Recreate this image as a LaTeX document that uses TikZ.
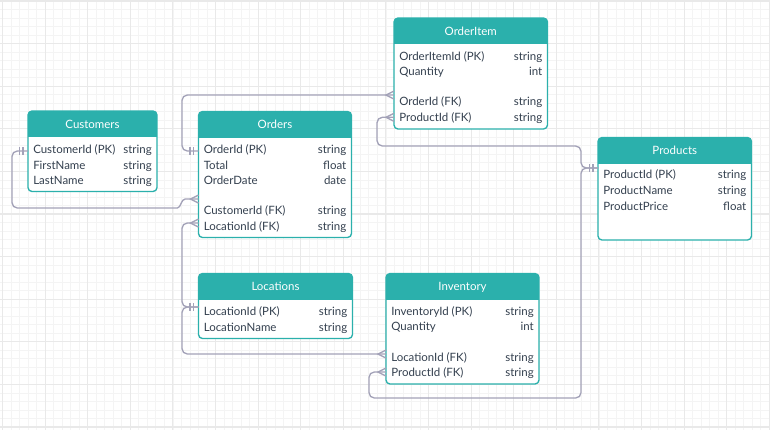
\documentclass[tikz,border=0pt]{standalone}
\usepackage{fontspec}
\setmainfont{Lato}
\usetikzlibrary{calc}
\definecolor{erteal}{HTML}{2BB0AC}
\definecolor{ertext}{HTML}{34404F}
\definecolor{erline}{HTML}{A3A2B8}
\definecolor{gridminor}{HTML}{F4F4F4}
\definecolor{gridmajor}{HTML}{E9E9E9}
\tikzset{
  tbl/.style={draw=erteal, fill=white, line width=1pt, rounded corners=3pt, inner sep=0pt, outer sep=0pt},
  hdrtext/.style={text=white, font=\fontsize{8.6}{10}\selectfont, inner sep=0pt},
  rowtxt/.style={text=ertext, font=\fontsize{8.6}{10}\selectfont, inner sep=0pt},
  conn/.style={draw=erline, line width=1pt, rounded corners=4pt},
  erl/.style={draw=erline, line width=1pt},
}
\newcommand{\ertable}[6]{% name, x, y, w, h, title
  \xdef\erL{#2}\pgfmathsetmacro\erRtmp{#2+#4}\xdef\erR{\erRtmp}%
  \node[tbl, minimum width=#4*0.75pt, minimum height=#5*0.75pt, anchor=north west] (#1) at (#2,#3) {};
  \begin{scope}
    \clip[rounded corners=3pt] (#1.north west) rectangle (#1.south east);
    \fill[erteal] (#1.north west) rectangle ($(#1.north east)+(0,26)$);
  \end{scope}
  \node[hdrtext, anchor=mid] (#1-title) at ($(#1.north)+(0,14)$) {#6};
}
\newcommand{\errow}[4]{% name, y, left, right
  \node[rowtxt, anchor=mid west] (#1l) at ({\erL+5},{#2+1}) {#3};
  \node[rowtxt, anchor=mid east] (#1r) at ({\erR-5},{#2+1}) {#4};
}
\newcommand{\onebar}[1]{\draw[erl] ($(#1)+(-8.5,-4)$) -- ($(#1)+(-8.5,4)$) ($(#1)+(-5,-4)$) -- ($(#1)+(-5,4)$);}
\newcommand{\crowft}[1]{\draw[erl] ($(#1)+(0,-4)$) -- ($(#1)+(-8,0)$) -- ($(#1)+(0,4)$);}
\begin{document}
\begin{tikzpicture}[x=0.75pt, y=-0.75pt]
\useasboundingbox (0,0) rectangle (770,430);
\fill[white] (0,0) rectangle (770,430);
\begin{scope}
  \clip (0,0) rectangle (770,430);
  \foreach \i in {0,...,92} {
    \draw[gridminor, line width=0.6pt] ({2.5+8.52*(\i-1)},0) -- ({2.5+8.52*(\i-1)},430);
  }
  \foreach \i in {0,...,52} {
    \draw[gridminor, line width=0.6pt] (0,{1+8.52*(\i-1)}) -- (770,{1+8.52*(\i-1)});
  }
  \foreach \i in {0,...,18} {
    \draw[gridmajor, line width=0.8pt] ({2.5+42.6*\i},0) -- ({2.5+42.6*\i},430);
  }
  \foreach \i in {0,...,10} {
    \draw[gridmajor, line width=0.8pt] (0,{1+42.6*\i}) -- (770,{1+42.6*\i});
  }
\end{scope}

% Tables
\ertable{cust}{28}{111}{129}{80.5}{Customers}
\errow{cust1}{149.3}{CustomerId (PK)}{string}
\errow{cust2}{164.7}{FirstName}{string}
\errow{cust3}{180}{LastName}{string}

\ertable{ord}{198.5}{111.5}{153}{126}{Orders}
\errow{ord1}{149.3}{OrderId (PK)}{string}
\errow{ord2}{164.7}{Total}{float}
\errow{ord3}{180}{OrderDate}{date}
\errow{ord4}{210.5}{CustomerId (FK)}{string}
\errow{ord5}{226}{LocationId (FK)}{string}

\ertable{oi}{394}{18}{153.5}{111}{OrderItem}
\errow{oi1}{55.7}{OrderItemId (PK)}{string}
\errow{oi2}{71}{Quantity}{int}
\errow{oi3}{101.3}{OrderId (FK)}{string}
\errow{oi4}{117.5}{ProductId (FK)}{string}

\ertable{prod}{598}{137.5}{153.5}{102.5}{Products}
\errow{prod1}{174.3}{ProductId (PK)}{string}
\errow{prod2}{190}{ProductName}{string}
\errow{prod3}{205.7}{ProductPrice}{float}

\ertable{loc}{198.5}{273.5}{154}{65}{Locations}
\errow{loc1}{311}{LocationId (PK)}{string}
\errow{loc2}{326.7}{LocationName}{string}

\ertable{inv}{386}{273.5}{153}{110.5}{Inventory}
\errow{inv1}{310.7}{InventoryId (PK)}{string}
\errow{inv2}{326}{Quantity}{int}
\errow{inv3}{356.7}{LocationId (FK)}{string}
\errow{inv4}{372.3}{ProductId (FK)}{string}

% Attach points
\coordinate (cust-pk) at ($(cust.north west)+(0,40)$);
\coordinate (ord-pk) at ($(ord.north west)+(0,39.5)$);
\coordinate (ord-cfk) at ($(ord.north west)+(0,87.5)$);
\coordinate (ord-lfk) at ($(ord.north west)+(0,111.5)$);
\coordinate (oi-ofk) at ($(oi.north west)+(0,77)$);
\coordinate (oi-pfk) at ($(oi.north west)+(0,99.3)$);
\coordinate (prod-pk) at ($(prod.north west)+(0,30.5)$);
\coordinate (loc-pk) at ($(loc.north west)+(0,33.5)$);
\coordinate (inv-lfk) at ($(inv.north west)+(0,80.5)$);
\coordinate (inv-pfk) at ($(inv.north west)+(0,98.5)$);

% Connectors
\draw[conn] (cust-pk) -| (12,208) -- (172,208) .. controls (181,208) and (181,199) .. ($(ord-cfk)+(-8,0)$) -- (ord-cfk);
\draw[conn] (ord-pk) -| (182,95) -- (oi-ofk);
\draw[conn] (ord-lfk) -| (182,307) -- (loc-pk);
\draw[conn] (loc-pk) -- (182,307) |- (inv-lfk);
\draw[conn] (oi-pfk) -| (377,146) -| (581,168) -- (prod-pk);
\draw[conn] (inv-pfk) -| (369,398) -| (581,168) -- (prod-pk);

% Markers
\onebar{cust-pk}
\onebar{ord-pk}
\onebar{loc-pk}
\onebar{prod-pk}
\crowft{ord-cfk}
\crowft{ord-lfk}
\crowft{oi-ofk}
\crowft{oi-pfk}
\crowft{inv-lfk}
\crowft{inv-pfk}
\end{tikzpicture}
\end{document}
